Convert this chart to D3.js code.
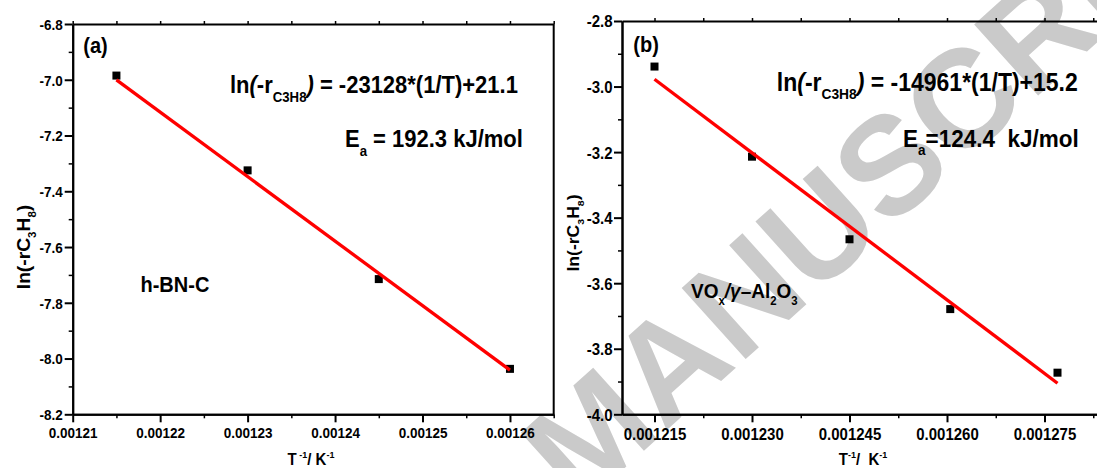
<!DOCTYPE html>
<html>
<head>
<meta charset="utf-8">
<script src="https://cdn.jsdelivr.net/npm/d3@7"></script>
<style>
  html, body { margin: 0; padding: 0; background: #fff; }
  svg { display: block; }
  .lbl { font-family: 'Liberation Sans', Arial, Helvetica, sans-serif; font-weight: 700; }
</style>
</head>
<body>
<div id="chart"></div>
<script>
// Arrhenius plots: h-BN-C (a) and VOx/γ-Al2O3 (b)

// panel (a) data
const hbnX = [0.001215, 0.00123, 0.001245, 0.00126];
const hbnY = [-6.985, -7.325, -7.715, -8.037];
const hbnFit = { slope: -23128, intercept: 21.1 };
const hbnXTicks = [0.00121, 0.00122, 0.00123, 0.00124, 0.00125, 0.00126];
const hbnYTicks = [-6.8, -7.0, -7.2, -7.4, -7.6, -7.8, -8.0, -8.2];

// panel (b) data
const voxX = [0.001215, 0.00123, 0.001245, 0.0012605, 0.001277];
const voxY = [-2.939, -3.214, -3.466, -3.679, -3.873];
const voxFit = { slope: -14961, intercept: 15.2 };
const voxXTicks = [0.001215, 0.00123, 0.001245, 0.00126, 0.001275];
const voxYTicks = [-2.8, -3.0, -3.2, -3.4, -3.6, -3.8, -4.0];

const W = 1097, H = 468;
const FONT = "'Liberation Sans', Arial, Helvetica, sans-serif";
const SY = 1.1; // the original figure is a bit stretched vertically

const svg = d3.select("#chart").append("svg")
    .attr("width", W)
    .attr("height", H)
    .attr("viewBox", [0, 0, W, H]);

svg.append("rect").attr("width", W).attr("height", H).attr("fill", "#fff");

// watermark sits behind everything
svg.append("text")
    .attr("transform", "translate(578,510) rotate(-42)")
    .attr("class", "lbl")
    .attr("font-size", 139)
    .attr("fill", "#cacaca")
    .text("MANUSCRIPT");

// bold text with sub/superscript and italic pieces
function richText(parent, x, y, size, parts, anchor = "start", rotate = 0) {
    const g = parent.append("g")
        .attr("transform", `translate(${x},${y}) scale(1,${SY})` + (rotate ? ` rotate(${rotate})` : ""));
    const t = g.append("text")
        .attr("class", "lbl")
        .attr("font-size", size)
        .attr("text-anchor", anchor)
        .attr("fill", "#000")
        .style("white-space", "pre");
    let shift = 0;
    parts.forEach(p => {
        const [s, k] = typeof p === "string" ? [p, ""] : p;
        const target = k === "sub" ? size * 0.34 : k === "sup" ? -size * 0.4 : 0;
        const sp = t.append("tspan").attr("dy", target - shift).text(s);
        shift = target;
        if (k === "sub" || k === "sup") sp.attr("font-size", size * 0.6);
        if (k === "it") sp.attr("font-style", "italic");
    });
    return t;
}

function midpoints(ticks, extraEnd) {
    const step = ticks[1] - ticks[0];
    const out = [];
    for (let i = 0; i < ticks.length - 1; i++) out.push((ticks[i] + ticks[i + 1]) / 2);
    if (extraEnd) out.push(ticks[ticks.length - 1] + step / 2);
    return out;
}

function panel(cfg) {
    const { x, y, xTicks, yTicks, xFmt, labelSize } = cfg;
    const [x0, x1] = x.range();
    const [y0, y1] = y.range(); // bottom, top
    const g = svg.append("g");

    const styleAxis = (a, width) => {
        a.select(".domain").attr("stroke-width", 2).attr("stroke", "#000");
        a.selectAll(".tick line").attr("stroke-width", width).attr("stroke", "#000");
    };

    // top and right frame
    const top = g.append("g").attr("transform", `translate(0,${y1})`)
        .call(d3.axisTop(x).tickValues(xTicks.concat(cfg.xMinor)).tickSize(3).tickSizeOuter(0).tickFormat(""));
    styleAxis(top, 1.5);
    g.append("line")
        .attr("x1", x1).attr("x2", x1).attr("y1", y1).attr("y2", y0)
        .attr("stroke", "#000").attr("stroke-width", 2);

    // minor ticks
    styleAxis(g.append("g").attr("transform", `translate(0,${y0})`)
        .call(d3.axisBottom(x).tickValues(cfg.xMinor).tickSize(4).tickSizeOuter(0).tickFormat("")), 1.5);
    styleAxis(g.append("g").attr("transform", `translate(${x0},0)`)
        .call(d3.axisLeft(y).tickValues(midpoints(yTicks)).tickSize(4).tickSizeOuter(0).tickFormat("")), 1.5);

    // major ticks + labels
    const bx = g.append("g").attr("transform", `translate(0,${y0})`)
        .call(d3.axisBottom(x).tickValues(xTicks).tickSize(8).tickSizeOuter(0).tickFormat(xFmt));
    styleAxis(bx, 2);
    bx.selectAll(".tick text")
        .attr("y", null).attr("dy", null)
        .attr("transform", `translate(0,${cfg.xLabelBase}) scale(1,${SY})`)
        .attr("class", "lbl").attr("font-size", labelSize).attr("fill", "#000");

    const ly = g.append("g").attr("transform", `translate(${x0},0)`)
        .call(d3.axisLeft(y).tickValues(yTicks).tickSize(8).tickSizeOuter(0).tickFormat(d => d.toFixed(1)));
    styleAxis(ly, 2);
    ly.selectAll(".tick text")
        .attr("x", null).attr("dy", "0.36em")
        .attr("transform", `translate(${-cfg.yLabelGap},0) scale(1,${SY})`)
        .attr("class", "lbl").attr("font-size", labelSize).attr("fill", "#000");

    // points, then the fit line over them
    const pts = cfg.xs.map((v, i) => [v, cfg.ys[i]]);
    g.append("g").selectAll("rect")
        .data(pts)
        .join("rect")
        .attr("x", d => x(d[0]) - 4)
        .attr("y", d => y(d[1]) - 4)
        .attr("width", 8)
        .attr("height", 8)
        .attr("fill", "#000");

    const fx = d3.extent(cfg.xs);
    g.append("path")
        .datum(fx.map(v => [v, cfg.fit.slope * v + cfg.fit.intercept]))
        .attr("d", d3.line().x(d => x(d[0])).y(d => y(d[1])))
        .attr("fill", "none")
        .attr("stroke", "#ff0000")
        .attr("stroke-width", 3.3);

    return g;
}

// panel (a)
const ax = d3.scaleLinear().domain([0.00121, 0.001265]).range([72.7, 553.7]);
const ay = d3.scaleLinear().domain([-8.2, -6.8]).range([414.3, 24]);
const pa = panel({
    x: ax, y: ay, xTicks: hbnXTicks, yTicks: hbnYTicks,
    xMinor: midpoints(hbnXTicks, true).filter(v => v <= 0.001265),
    xFmt: d => d.toFixed(5), labelSize: 13.5, xLabelBase: 24, yLabelGap: 10,
    xs: hbnX, ys: hbnY, fit: hbnFit
});
richText(pa, 83.3, 52.7, 20, ["(a)"]);
richText(pa, 230, 93.3, 22, ["ln", ["(", "it"], "-r", ["C3H8", "sub"], [")", "it"], " = -23128*(1/T)+21.1"]);
richText(pa, 345, 147.3, 22, ["E", ["a", "sub"], " = 192.3 kJ/mol"]);
richText(pa, 140.5, 291.7, 20, ["h-BN-C"]);
richText(pa, 30, 247, 17.5, ["ln(-rC", ["3", "sub"], "H", ["8", "sub"], ")"], "middle", -90);
richText(pa, 311, 465, 15, ["T", [" -1", "sup"], "/ K", ["-1", "sup"]], "middle");

// panel (b) runs past the right edge of the picture
const bxs = d3.scaleLinear().domain([0.00121, 0.001285]).range([622, 1109.5]);
const bys = d3.scaleLinear().domain([-4.0, -2.8]).range([414.3, 21]);
const pb = panel({
    x: bxs, y: bys, xTicks: voxXTicks, yTicks: voxYTicks,
    xMinor: midpoints(voxXTicks, true),
    xFmt: d => d.toFixed(6), labelSize: 15, xLabelBase: 25.5, yLabelGap: 9.5,
    xs: voxX, ys: voxY, fit: voxFit
});
richText(pb, 633.3, 51.7, 20, ["(b)"]);
richText(pb, 776.8, 90.7, 23, ["ln", ["(", "it"], "-r", ["C3H8", "sub"], [")", "it"], " = -14961*(1/T)+15.2"]);
richText(pb, 903, 146.7, 22.5, ["E", ["a", "sub"], "=124.4  kJ/mol"]);
richText(pb, 691, 298.3, 19, ["VO", ["x", "sub"], ["/γ", "it"], "–Al", ["2", "sub"], "O", ["3", "sub"]]);
richText(pb, 578.7, 233, 16, ["ln(-rC", ["3", "sub"], "H", ["8", "sub"], ")"], "middle", -90);
richText(pb, 863, 465, 15, ["T", ["-1", "sup"], "/  K", ["-1", "sup"]], "middle");
</script>
</body>
</html>
